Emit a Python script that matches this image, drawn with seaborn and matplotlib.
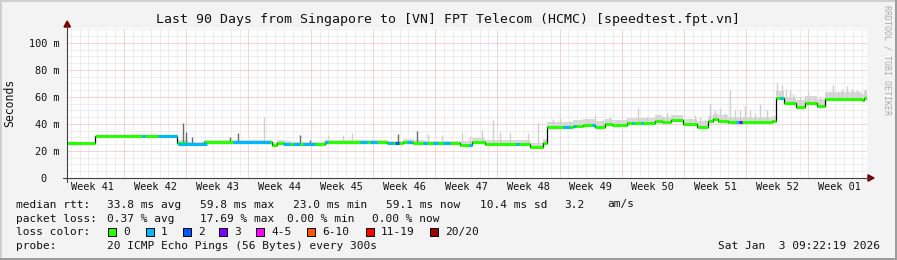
import numpy as np
import matplotlib
matplotlib.use("Agg")
import matplotlib.pyplot as plt
from matplotlib.patches import Rectangle, Polygon
from matplotlib.lines import Line2D
import seaborn as sns

# ---------------- data ----------------
title = "Last 90 Days from Singapore to [VN] FPT Telecom (HCMC) [speedtest.fpt.vn]"
week_labels = ["Week 41", "Week 42", "Week 43", "Week 44", "Week 45", "Week 46",
               "Week 47", "Week 48", "Week 49", "Week 50", "Week 51", "Week 52",
               "Week 01"]
week41_start_day = -0.59          # day (0..90 axis) where Week 41 begins
y_tick_values = [0, 20, 40, 60, 80, 100]
y_tick_labels = ["0  ", "20 m", "40 m", "60 m", "80 m", "100 m"]

# median RTT (ms) as steps: segment start day, value
seg_start = [0.0, 3.15, 12.37, 13.61, 15.41, 23.06, 23.62, 24.52, 25.31, 29.02,
             36.0, 37.8, 38.92, 40.27, 44.21, 45.56, 47.02, 52.08, 53.55, 54.0,
             56.92, 58.05, 59.4, 60.52, 61.31, 63.0, 66.15, 66.94, 67.95, 69.30,
             70.87, 72.11, 72.67, 73.24, 74.36, 79.31, 79.76, 80.66, 82.01, 83.02,
             84.37, 85.27, 89.43, 89.66]
median_ms = [26.0, 30.8, 26.2, 25.0, 26.4, 24.8, 26.0, 25.4, 25.0, 26.4,
             25.8, 27.0, 26.0, 25.6, 24.2, 26.4, 25.4, 23.2, 25.7, 37.5,
             38.6, 39.6, 38.0, 39.8, 39.0, 40.6, 42.3, 41.5, 42.8, 39.7,
             38.0, 42.2, 43.6, 42.4, 41.5, 42.2, 59.6, 55.4, 52.8, 55.8,
             53.6, 58.7, 57.6, 59.3]
# dense smoke above the median (ms) for each segment
smoke_spread = [0.3, 0.3,
                1.8, 1.8, 1.8, 1.8, 1.8, 1.8, 1.8, 1.8, 1.8, 1.8, 1.8, 1.8,
                3.0, 3.0, 3.0, 3.0, 3.0,
                4.0, 4.0, 4.0, 4.0, 4.0, 4.0, 4.0, 4.0, 4.0, 4.0, 4.0, 4.0,
                4.0, 4.0, 4.0, 4.0, 4.0,
                4.8, 4.8, 4.8, 4.8, 4.8, 4.8, 4.8, 4.8]
end_day = 90.0

# sparse smoke spikes: day, top (ms)
light_spike_day = [22.16, 29.36, 31.05, 32.06, 40.61, 42.19, 44.44, 45.34, 46.69,
                   47.93, 48.71, 49.84, 51.86, 52.99, 54.68, 55.46, 56.59, 58.5,
                   59.4, 60.3, 61.09, 61.99, 63.0, 64.24, 65.25, 66.38, 67.05,
                   67.5, 68.18, 68.96, 70.09, 70.65, 71.21, 71.78, 72.34, 72.9,
                   73.46, 74.03, 74.59, 75.15, 75.71, 76.28, 76.84, 77.4, 77.96,
                   78.75, 79.88, 80.44, 80.89, 81.34, 81.68, 82.46, 83.03, 83.36,
                   84.15, 84.71, 85.39, 85.84, 86.18, 86.74, 87.19, 87.75, 88.31,
                   88.88, 89.21, 89.78]
light_spike_top = [45.4, 31.5, 32.0, 33.0, 32.6, 32.0, 33.0, 31.0, 35.5,
                   43.0, 34.0, 33.0, 33.0, 41.7, 44.0, 44.5, 42.0, 43.0,
                   46.5, 43.0, 45.4, 43.0, 44.0, 51.6, 45.0, 47.0, 46.0,
                   47.9, 46.0, 45.0, 44.0, 46.7, 45.0, 44.0, 55.0, 50.0,
                   51.6, 48.0, 65.0, 50.0, 50.0, 53.0, 50.0, 48.0, 55.0,
                   50.0, 70.0, 69.0, 66.0, 65.0, 62.0, 60.0, 61.0, 64.4,
                   60.0, 60.0, 62.0, 64.0, 69.0, 63.0, 66.0, 68.0, 66.0,
                   65.0, 62.0, 66.0]
dark_spike_day = [13.05, 13.39, 14.06, 18.34, 19.24, 26.21, 27.34, 37.24, 39.38]
dark_spike_top = [40.5, 34.0, 30.0, 30.6, 33.0, 32.0, 28.5, 32.3, 35.0]

# packet loss episodes on the median line: start day, end day, lost pings
loss_start = [8.44, 10.24, 12.49, 18.67, 24.3, 25.42, 26.55, 29.02, 32.96, 34.09,
              36.11, 36.9, 38.25, 40.05, 41.17, 42.3, 45.22, 50.51, 55.8, 57.04,
              59.06, 63.56, 64.57, 75.26, 75.6, 80.21]
loss_end = [8.77, 12.37, 15.75, 22.84, 25.09, 26.21, 27.9, 29.36, 33.75, 34.87,
            36.67, 37.35, 38.81, 40.5, 41.74, 43.09, 45.56, 50.85, 56.59, 57.26,
            59.4, 63.78, 64.8, 75.6, 75.94, 80.55]
loss_count = [1, 1, 1, 1, 1, 1, 1, 1, 1, 1,
              1, 2, 1, 1, 1, 1, 1, 1, 1, 1,
              1, 1, 1, 1, 3, 1]

legend_names = ["0", "1", "2", "3", "4-5", "6-10", "11-19", "20/20"]
legend_colors = ["#26ff00", "#00b8ff", "#0059ff", "#7e00ff", "#ff00ff",
                 "#ff5500", "#ff0000", "#a00000"]
loss_bucket_color = {0: "#26ff00", 1: "#00b8ff", 2: "#0059ff", 3: "#7e00ff"}

stats_line1 = ["median rtt:", "33.8 ms avg", "59.8 ms max", "23.0 ms min",
               "59.1 ms now", "10.4 ms sd", "3.2", "am/s"]
stats_line2 = ["packet loss:", "0.37 % avg", "17.69 % max", "0.00 % min", "0.00 % now"]
probe_text = "20 ICMP Echo Pings (56 Bytes) every 300s"
timestamp = "Sat Jan  3 09:22:19 2026"

# ---------------- figure ----------------
sns.set_style("white")
plt.rcParams["font.family"] = ["DejaVu Sans Mono"]
W, H = 897, 260
fig = plt.figure(figsize=(W / 100, H / 100), dpi=100, facecolor="#f3f3f3")


def fx(x):
    return x / W


def fy(y):
    return 1 - y / H


ax = fig.add_axes([fx(67), fy(178), 800 / W, 150 / H])
ax.set_facecolor("white")
ax.set_xlim(0, end_day)
ax.set_ylim(0, 111.1)
for s in ax.spines.values():
    s.set_visible(False)

week_bounds = [week41_start_day + 7 * k for k in range(len(week_labels) + 1)]
day_lines = week41_start_day + np.arange(0, 7 * len(week_labels) + 1)
ax.set_xticks([w for w in week_bounds if 0 <= w <= end_day])
ax.set_xticks([d for d in day_lines if 0 <= d <= end_day], minor=True)
ax.set_xticklabels([])
ax.set_yticks(y_tick_values)
ax.set_yticks(np.arange(0, 111, 5), minor=True)
ax.set_yticklabels(y_tick_labels)
ax.tick_params(axis="both", which="major", direction="inout", length=4, width=0.7,
               color="#404040", labelsize=7.4, labelcolor="#111111")
ax.tick_params(axis="both", which="minor", direction="inout", length=2, width=0.7,
               color="#404040")
ax.tick_params(axis="y", which="major", pad=3.6)
ax.tick_params(axis="x", which="both", length=3)
ax.set_axisbelow(True)
ax.grid(which="minor", color="#dedede", linestyle=(0, (1, 1)), linewidth=0.72)
ax.grid(which="major", color="#f5a8a8", linestyle=(0, (1, 1)), linewidth=0.72)

for i, lab in enumerate(week_labels):
    mid = week_bounds[i] + 3.5
    ax.text(mid, -0.06, lab, transform=ax.get_xaxis_transform(), ha="center",
            va="center", fontsize=7.4, color="#111111", clip_on=False)

# ---------------- marks ----------------
seg_start_a = np.array(seg_start)
med_a = np.array(median_ms)
seg_end_a = np.append(seg_start_a[1:], end_day)


def med_at(d):
    idx = np.searchsorted(seg_start_a, np.asarray(d), side="right") - 1
    return med_a[np.clip(idx, 0, len(med_a) - 1)]


x_ext = np.append(seg_start_a, end_day)
y_ext = np.append(med_a, med_a[-1])
sp_ext = np.append(np.array(smoke_spread), smoke_spread[-1])

ax.fill_between(x_ext, y_ext, y_ext + sp_ext, step="post", color="#d9d9d9",
                lw=0, zorder=2)
ax.vlines(light_spike_day, med_at(light_spike_day), light_spike_top,
          color="#cfcfcf", lw=1.0, zorder=2)
ax.vlines(dark_spike_day, med_at(dark_spike_day), dark_spike_top,
          color="#6a6a6a", lw=1.0, zorder=3)

sns.lineplot(x=x_ext, y=y_ext, drawstyle="steps-post", color="black", lw=0.9,
             estimator=None, sort=False, ax=ax, zorder=4)
ax.hlines(med_a, seg_start_a, seg_end_a, color="#26ff00", lw=2.2, zorder=5)
for s0, s1, c in zip(loss_start, loss_end, loss_count):
    ax.hlines(med_at((s0 + s1) / 2), s0, s1, color=loss_bucket_color[c], lw=2.2,
              zorder=6)
ax.set_xlabel("")
ax.set_ylabel("")

# axes lines with arrows
axis_col = "#404040"
arrow_col = "#7a0000"
fig.add_artist(Line2D([fx(67), fx(67)], [fy(182), fy(25)], color=axis_col, lw=0.8,
                      transform=fig.transFigure))
fig.add_artist(Line2D([fx(63), fx(870)], [fy(178), fy(178)], color=axis_col, lw=0.8,
                      transform=fig.transFigure))
fig.add_artist(Polygon([[fx(64), fy(27)], [fx(70.5), fy(27)], [fx(67.2), fy(21)]],
                       closed=True, color=arrow_col, transform=fig.transFigure))
fig.add_artist(Polygon([[fx(868), fy(174.8)], [fx(868), fy(181.2)], [fx(874), fy(178)]],
                       closed=True, color=arrow_col, transform=fig.transFigure))

# ---------------- texts ----------------
fig.text(fx(448), fy(19), title, ha="center", va="center", fontsize=9.5,
         color="#111111")
fig.text(fx(10), fy(103), "Seconds", rotation=90, ha="center", va="center",
         fontsize=8.3, color="#111111")
fig.text(fx(887), fy(5), "RRDTOOL / TOBI OETIKER", rotation=270, ha="center",
         va="top", fontsize=6, color="#ababab")

fs = 8
line1_x = [16, 107, 200, 293, 386, 480, 564, 607]
for s, x in zip(stats_line1, line1_x):
    fig.text(fx(x), fy(204.5), s, ha="left", va="center", fontsize=fs, color="#111111")
line2_x = [16, 107, 200, 286.5, 372]
for s, x in zip(stats_line2, line2_x):
    fig.text(fx(x), fy(218.5), s, ha="left", va="center", fontsize=fs, color="#111111")
fig.text(fx(16), fy(232), "loss color:", ha="left", va="center", fontsize=fs,
         color="#111111")
box_x = [108, 146, 183, 219, 256, 307, 366, 430]
for name, col, bx in zip(legend_names, legend_colors, box_x):
    fig.add_artist(Rectangle((fx(bx), fy(236)), 8 / W, 8 / H, facecolor=col,
                             edgecolor="black", lw=0.7, transform=fig.transFigure))
    fig.text(fx(bx + 15), fy(232), name, ha="left", va="center", fontsize=fs,
             color="#111111")
fig.text(fx(16), fy(246), "probe:", ha="left", va="center", fontsize=fs,
         color="#111111")
fig.text(fx(107), fy(246), probe_text, ha="left", va="center", fontsize=fs,
         color="#111111")
fig.text(fx(880), fy(246), timestamp, ha="right", va="center", fontsize=fs,
         color="#111111")

# 3D border of the image
fig.add_artist(Rectangle((0, 1 - 2 / H), 1, 2 / H, color="#cfcfcf",
                         transform=fig.transFigure, lw=0))
fig.add_artist(Rectangle((0, 0), 2 / W, 1, color="#cfcfcf",
                         transform=fig.transFigure, lw=0))
fig.add_artist(Rectangle((0, 0), 1, 2 / H, color="#9c9c9c",
                         transform=fig.transFigure, lw=0))
fig.add_artist(Rectangle((1 - 2 / W, 0), 2 / W, 1, color="#9c9c9c",
                         transform=fig.transFigure, lw=0))

fig.savefig("out.png", dpi=100, facecolor=fig.get_facecolor())
